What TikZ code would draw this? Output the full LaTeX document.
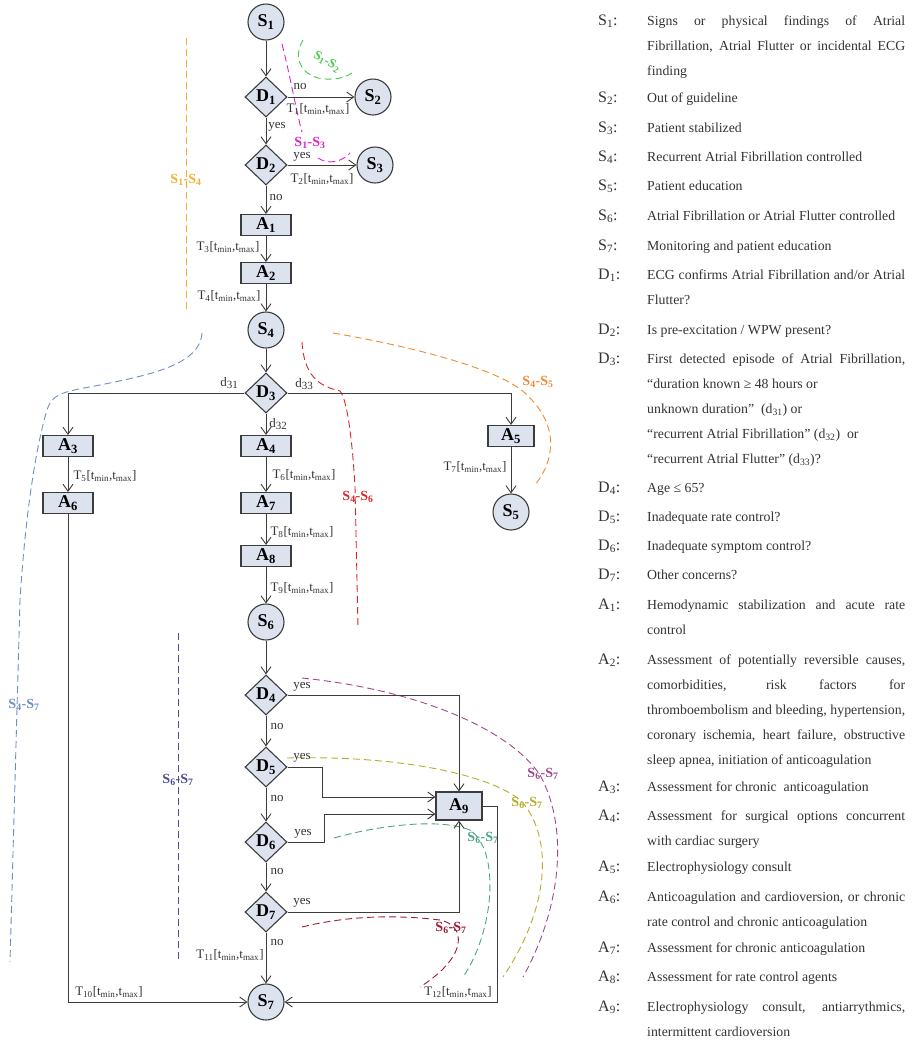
\documentclass[tikz,border=0pt]{standalone}
\usepackage{fontspec}
\setmainfont{Liberation Serif}
\usetikzlibrary{shapes.geometric,arrows.meta}
\definecolor{lineC}{HTML}{3C3C3C}
\definecolor{nodeF}{HTML}{DCE3EF}
\definecolor{txtC}{HTML}{333333}
\definecolor{cGreen}{HTML}{44CC44}
\definecolor{cMag}{HTML}{DD22CC}
\definecolor{cGold}{HTML}{F0B030}
\definecolor{cSteel}{HTML}{6F8FC0}
\definecolor{cRed}{HTML}{E02525}
\definecolor{cOrange}{HTML}{F08A30}
\definecolor{cNavy}{HTML}{4C4C96}
\definecolor{cPlum}{HTML}{A0488F}
\definecolor{cOlive}{HTML}{B4AC28}
\definecolor{cTeal}{HTML}{48A488}
\definecolor{cDRed}{HTML}{A01A30}
\newcommand\nsp{\spaceskip=0pt\relax\xspaceskip=0pt\relax}
\newcommand\jline[1]{\makebox[258pt][s]{\spaceskip=.25em plus 1fill\relax\xspaceskip=.25em plus 1fill\relax #1}}
\newcommand\tlab[1]{T\textsubscript{#1}[t\textsubscript{min},t\textsubscript{max}]}
\newcommand\dlab[1]{d\raisebox{-2pt}{\fontsize{11}{11}\selectfont #1}}
\newcommand\sspair[2]{S\textsubscript{#1}-S\textsubscript{#2}}
\tikzset{
 basenode/.style={draw=lineC, fill=nodeF, line width=1.1pt, inner sep=0pt, font=\fontsize{18}{18}\selectfont\bfseries},
 circ/.style={basenode, circle, minimum size=36pt},
 dia/.style={basenode, diamond, minimum width=42pt, minimum height=40pt},
 actbox/.style={basenode, rectangle, minimum width=50pt, minimum height=21pt},
 conn/.style={draw=lineC, line width=0.9pt, -{Straight Barb[length=7pt,width=10pt]}},
 lbl/.style={font=\fontsize{13}{13}\selectfont, text=txtC, inner sep=0pt},
 annline/.style={line width=0.9pt, dash pattern=on 7pt off 4pt},
 annlbl/.style={font=\fontsize{14}{14}\selectfont\bfseries, inner sep=0pt},
 legl/.style={font=\fontsize{16}{16}\selectfont, inner sep=0pt, anchor=base west, text=txtC},
 legt/.style={font=\fontsize{13.8}{25}\selectfont, inner sep=0pt, anchor=base west, text width=258pt, text=txtC},
}
\begin{document}
\begin{tikzpicture}[x=1pt,y=-1pt]
\useasboundingbox (0,0) rectangle (916,1045);

% ---------- dashed annotations (behind) ----------
\draw[annline, cGreen] (303,40) .. controls (294,55) and (298,72) .. (318,78) .. controls (332,81) and (345,78) .. (352,73);
\node[annlbl, text=cGreen, rotate=-30, font=\fontsize{13}{13}\selectfont\bfseries] (lg) at (327,62) {\sspair{1}{2}};
\draw[annline, cMag] (282,44) .. controls (290,75) and (296,110) .. (302,132);
\draw[annline, cMag] (318,158) .. controls (328,165) and (342,162) .. (350,153);
\node[annlbl, text=cMag] (lm) at (310,143) {\sspair{1}{3}};
\draw[annline, cGold] (186,38) -- (186,313);
\node[annlbl, text=cGold] (lgo) at (186,180) {\sspair{1}{4}};
\draw[annline, cSteel] (202,333) .. controls (200,365) and (150,375) .. (95,386) .. controls (60,392) and (52,395) .. (47,410) .. controls (35,450) and (25,520) .. (20,600) -- (10,962);
\node[annlbl, text=cSteel] (lst) at (24,705) {\sspair{4}{7}};
\draw[annline, cRed] (302,342) .. controls (304,375) and (318,386) .. (340,391) .. controls (348,400) and (353,450) .. (355,487) -- (358,627);
\node[annlbl, text=cRed] (lr) at (358,497) {\sspair{4}{6}};
\draw[annline, cOrange] (333,333) .. controls (420,348) and (500,370) .. (525,393) .. controls (560,425) and (555,460) .. (535,485);
\node[annlbl, text=cOrange] (lo) at (538,382) {\sspair{4}{5}};
\draw[annline, cNavy] (178,633) -- (178,962);
\node[annlbl, text=cNavy] (ln) at (178,780) {\sspair{6}{7}};
\draw[annline, cPlum] (302,678) .. controls (420,690) and (510,730) .. (540,775) .. controls (570,830) and (560,910) .. (523,977);
\node[annlbl, text=cPlum] (lp) at (543,774) {\sspair{6}{7}};
\draw[annline, cOlive] (287,758) .. controls (400,755) and (490,775) .. (520,800) .. controls (550,830) and (555,900) .. (503,977);
\node[annlbl, text=cOlive] (lol) at (527,803) {\sspair{6}{7}};
\draw[annline, cTeal] (334,838) .. controls (380,825) and (440,818) .. (470,830) .. controls (500,850) and (495,930) .. (463,977);
\node[annlbl, text=cTeal] (lt) at (483,838) {\sspair{6}{7}};
\draw[annline, cDRed] (302,927) .. controls (350,915) and (400,915) .. (440,920) .. controls (465,925) and (470,955) .. (420,987);
\node[annlbl, text=cDRed] (ld) at (451,928) {\sspair{6}{7}};

% ---------- nodes ----------
\node[circ] (S1) at (266,22) {S\textsubscript{1}};
\node[dia] (D1) at (266,97) {D\textsubscript{1}};
\node[circ] (S2) at (373,97) {S\textsubscript{2}};
\node[dia] (D2) at (266,165) {D\textsubscript{2}};
\node[circ] (S3) at (375,165) {S\textsubscript{3}};
\node[actbox] (A1) at (266,225) {A\textsubscript{1}};
\node[actbox] (A2) at (266,273) {A\textsubscript{2}};
\node[circ] (S4) at (266,330) {S\textsubscript{4}};
\node[dia] (D3) at (266,393) {D\textsubscript{3}};
\node[actbox] (A3) at (68,446) {A\textsubscript{3}};
\node[actbox] (A6) at (68,503) {A\textsubscript{6}};
\node[actbox] (A4) at (266,446) {A\textsubscript{4}};
\node[actbox] (A7) at (266,503) {A\textsubscript{7}};
\node[actbox] (A8) at (266,556) {A\textsubscript{8}};
\node[circ] (S6) at (266,622) {S\textsubscript{6}};
\node[actbox, minimum width=46pt] (A5) at (511,436) {A\textsubscript{5}};
\node[circ] (S5) at (511,512) {S\textsubscript{5}};
\node[dia] (D4) at (266,695) {D\textsubscript{4}};
\node[dia] (D5) at (266,767) {D\textsubscript{5}};
\node[dia] (D6) at (266,842) {D\textsubscript{6}};
\node[dia] (D7) at (266,912) {D\textsubscript{7}};
\node[actbox, minimum width=46pt, minimum height=28pt] (A9) at (459,806) {A\textsubscript{9}};
\node[circ] (S7) at (266,1002) {S\textsubscript{7}};

% ---------- connectors ----------
\draw[conn] (S1) -- (D1);
\draw[conn] (D1) -- (S2);
\draw[conn] (D1) -- (D2);
\draw[conn] (D2) -- (S3);
\draw[conn] (D2) -- (A1);
\draw[conn] (A1) -- (A2);
\draw[conn] (A2) -- (S4);
\draw[conn] (S4) -- (D3);
\draw[conn] (D3.west) -| (A3.north);
\draw[conn] (D3) -- (A4);
\draw[conn] (D3.east) -| (A5.north);
\draw[conn] (A3) -- (A6);
\draw[conn] (A4) -- (A7);
\draw[conn] (A7) -- (A8);
\draw[conn] (A8) -- (S6);
\draw[conn] (A5) -- (S5);
\draw[conn] (S6) -- (D4);
\draw[conn] (D4) -- (D5);
\draw[conn] (D5) -- (D6);
\draw[conn] (D6) -- (D7);
\draw[conn] (D7) -- (S7);
\draw[conn] (A6.south) |- (S7.west);
\draw[conn] (D4.east) -| (A9.north);
\draw[conn] (D5.east) -- ++(35pt,0) |- ([yshift=9pt]A9.west);
\draw[conn] (D6.east) -- ++(37pt,0) |- ([yshift=-8pt]A9.west);
\draw[conn] (D7.east) -| (A9.south);
\draw[conn] (A9.east) -- ++(15pt,0) |- (S7.east);

% ---------- connector labels ----------
\node[lbl] (n1) at (300,86) {no};
\node[lbl] (t1) at (318,109) {\tlab{1}};
\node[lbl] (y1) at (277,127) {yes};
\node[lbl] (y2) at (302,157) {yes};
\node[lbl] (t2) at (322,179) {\tlab{2}};
\node[lbl] (n2) at (276,197) {no};
\node[lbl] (t3) at (228,247) {\tlab{3}};
\node[lbl] (t4) at (229,296) {\tlab{4}};
\node[lbl] (d31) at (229,383) {\dlab{31}};
\node[lbl] (d33) at (304,384) {\dlab{33}};
\node[lbl] (d32) at (278,424) {\dlab{32}};
\node[lbl] (t5) at (105,476) {\tlab{5}};
\node[lbl] (t6) at (304,475) {\tlab{6}};
\node[lbl] (t7) at (475,467) {\tlab{7}};
\node[lbl] (t8) at (302,532) {\tlab{8}};
\node[lbl] (t9) at (302,588) {\tlab{9}};
\node[lbl] (y4) at (302,687) {yes};
\node[lbl] (n4) at (277,726) {no};
\node[lbl] (y5) at (302,758) {yes};
\node[lbl] (n5) at (277,798) {no};
\node[lbl] (y6) at (303,834) {yes};
\node[lbl] (n6) at (277,871) {no};
\node[lbl] (y7) at (302,903) {yes};
\node[lbl] (n7) at (277,942) {no};
\node[lbl] (t11) at (230,955) {\tlab{11}};
\node[lbl] (t10) at (109,992) {\tlab{10}};
\node[lbl] (t12) at (458,992) {\tlab{12}};

% ---------- legend ----------
\node[legl] (kS1) at (598,25) {S\textsubscript{1}:};
\node[legt] (xS1) at (647,25) {\nsp\jline{Signs or physical findings of Atrial}\\\jline{Fibrillation, Atrial Flutter or incidental ECG}\\finding};
\node[legl] (kS2) at (598,102) {S\textsubscript{2}:};
\node[legt] (xS2) at (647,102) {\nsp Out of guideline};
\node[legl] (kS3) at (598,132) {S\textsubscript{3}:};
\node[legt] (xS3) at (647,132) {\nsp Patient stabilized};
\node[legl] (kS4) at (598,161) {S\textsubscript{4}:};
\node[legt] (xS4) at (647,161) {\nsp Recurrent Atrial Fibrillation controlled};
\node[legl] (kS5) at (598,190) {S\textsubscript{5}:};
\node[legt] (xS5) at (647,190) {\nsp Patient education};
\node[legl] (kS6) at (598,220) {S\textsubscript{6}:};
\node[legt] (xS6) at (647,220) {\nsp Atrial Fibrillation or Atrial Flutter controlled};
\node[legl] (kS7) at (598,250) {S\textsubscript{7}:};
\node[legt] (xS7) at (647,250) {\nsp Monitoring and patient education};
\node[legl] (kD1) at (598,279) {D\textsubscript{1}:};
\node[legt] (xD1) at (647,279) {\nsp\jline{ECG confirms Atrial Fibrillation and/or Atrial}\\Flutter?};
\node[legl] (kD2) at (598,334) {D\textsubscript{2}:};
\node[legt] (xD2) at (647,334) {\nsp Is pre-excitation / WPW present?};
\node[legl] (kD3) at (598,363) {D\textsubscript{3}:};
\node[legt] (xD3) at (647,363) {\nsp\jline{First detected episode of Atrial Fibrillation,}\\“duration known ≥ 48 hours or\\unknown duration”~ (d\textsubscript{31}) or\\“recurrent Atrial Fibrillation” (d\textsubscript{32})~ or\\“recurrent Atrial Flutter” (d\textsubscript{33})?};
\node[legl] (kD4) at (598,492) {D\textsubscript{4}:};
\node[legt] (xD4) at (647,492) {\nsp Age ≤ 65?};
\node[legl] (kD5) at (598,521) {D\textsubscript{5}:};
\node[legt] (xD5) at (647,521) {\nsp Inadequate rate control?};
\node[legl] (kD6) at (598,550) {D\textsubscript{6}:};
\node[legt] (xD6) at (647,550) {\nsp Inadequate symptom control?};
\node[legl] (kD7) at (598,579) {D\textsubscript{7}:};
\node[legt] (xD7) at (647,579) {\nsp Other concerns?};
\node[legl] (kA1) at (598,609) {A\textsubscript{1}:};
\node[legt] (xA1) at (647,609) {\nsp\jline{Hemodynamic stabilization and acute rate}\\control};
\node[legl] (kA2) at (598,664) {A\textsubscript{2}:};
\node[legt] (xA2) at (647,664) {\nsp\jline{Assessment of potentially reversible causes,}\\\jline{comorbidities, risk factors for}\\\jline{thromboembolism and bleeding, hypertension,}\\\jline{coronary ischemia, heart failure, obstructive}\\sleep apnea, initiation of anticoagulation};
\node[legl] (kA3) at (598,791) {A\textsubscript{3}:};
\node[legt] (xA3) at (647,791) {\nsp Assessment for chronic~ anticoagulation};
\node[legl] (kA4) at (598,820) {A\textsubscript{4}:};
\node[legt] (xA4) at (647,820) {\nsp\jline{Assessment for surgical options concurrent}\\with cardiac surgery};
\node[legl] (kA5) at (598,871) {A\textsubscript{5}:};
\node[legt] (xA5) at (647,871) {\nsp Electrophysiology consult};
\node[legl] (kA6) at (598,901) {A\textsubscript{6}:};
\node[legt] (xA6) at (647,901) {\nsp\jline{Anticoagulation and cardioversion, or chronic}\\rate control and chronic anticoagulation};
\node[legl] (kA7) at (598,952) {A\textsubscript{7}:};
\node[legt] (xA7) at (647,952) {\nsp Assessment for chronic anticoagulation};
\node[legl] (kA8) at (598,981) {A\textsubscript{8}:};
\node[legt] (xA8) at (647,981) {\nsp Assessment for rate control agents};
\node[legl] (kA9) at (598,1011) {A\textsubscript{9}:};
\node[legt] (xA9) at (647,1011) {\nsp\jline{Electrophysiology consult, antiarrythmics,}\\intermittent cardioversion};
\end{tikzpicture}
\end{document}
